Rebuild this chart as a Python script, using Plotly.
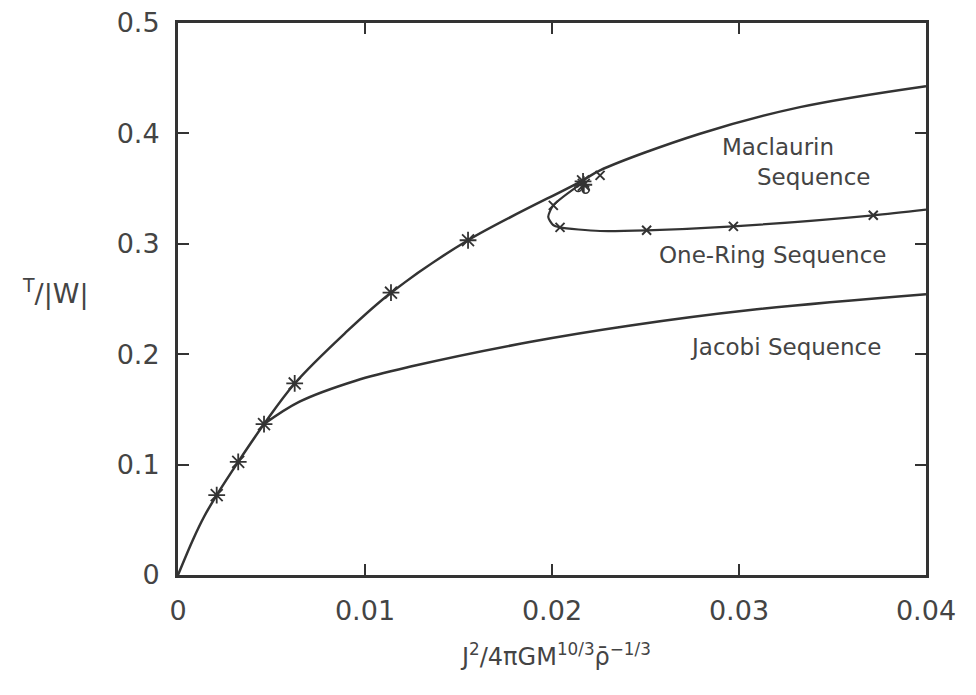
import plotly.graph_objects as go

# Maclaurin sequence (curve)
mac_x = [0, 0.0008, 0.0014, 0.00207, 0.00322, 0.0046, 0.00624, 0.00891, 0.01139,
         0.01551, 0.02155, 0.02257, 0.02791, 0.03326, 0.04]
mac_y = [0, 0.032, 0.053, 0.0724, 0.1025, 0.1367, 0.1735, 0.2187, 0.2557,
         0.3032, 0.3566, 0.3665, 0.3997, 0.4238, 0.4428]
# Maclaurin star markers
macm_x = [0.00207, 0.00322, 0.0046, 0.00624, 0.01139, 0.01551, 0.02166, 0.0217]
macm_y = [0.0724, 0.1025, 0.1367, 0.1735, 0.2557, 0.3032, 0.3566, 0.3535]

# Jacobi sequence
jac_x = [0.0046, 0.0065, 0.0095, 0.0125, 0.0188, 0.0242, 0.0306, 0.0400]
jac_y = [0.1367, 0.157, 0.176, 0.189, 0.211, 0.226, 0.240, 0.2543]

# One-ring sequence
ring_x = [0.02166, 0.02007, 0.0198, 0.02005, 0.02043, 0.02257, 0.02506, 0.0297, 0.03718, 0.04]
ring_y = [0.3557, 0.3348, 0.3243, 0.3172, 0.3149, 0.3116, 0.3122, 0.3158, 0.3258, 0.331]
ringm_x = [0.02007, 0.02043, 0.02506, 0.0297, 0.03718, 0.02257]
ringm_y = [0.3348, 0.3149, 0.3122, 0.3158, 0.3258, 0.362]
# circles in the cluster
circ_x = [0.0218, 0.0214]
circ_y = [0.3490, 0.3505]

xticks = [0, 0.01, 0.02, 0.03, 0.04]
xtick_text = ["0", "0.01", "0.02", "0.03", "0.04"]
yticks = [0, 0.1, 0.2, 0.3, 0.4, 0.5]
ytick_text = ["0", "0.1", "0.2", "0.3", "0.4", "0.5"]

INK = "#333333"
TXT = "#444444"
FONT = "DejaVu Sans"

fig = go.Figure()
fig.add_trace(go.Scatter(x=mac_x, y=mac_y, mode="lines",
                         line=dict(color=INK, width=2.5, shape="spline", smoothing=1.0)))
fig.add_trace(go.Scatter(x=jac_x, y=jac_y, mode="lines",
                         line=dict(color=INK, width=2.5, shape="spline", smoothing=1.0)))
fig.add_trace(go.Scatter(x=ring_x, y=ring_y, mode="lines",
                         line=dict(color=INK, width=2.2, shape="spline", smoothing=0.7)))
fig.add_trace(go.Scatter(x=macm_x, y=macm_y, mode="markers",
                         marker=dict(symbol="asterisk-open", size=14, color=INK,
                                     line=dict(color=INK, width=1.8))))
fig.add_trace(go.Scatter(x=ringm_x, y=ringm_y, mode="markers",
                         marker=dict(symbol="x-thin-open", size=9, color=INK,
                                     line=dict(color=INK, width=2))))
fig.add_trace(go.Scatter(x=circ_x, y=circ_y, mode="markers",
                         marker=dict(symbol="circle-open", size=7, color=INK,
                                     line=dict(color=INK, width=1.5))))

axis_common = dict(showgrid=False, zeroline=False, showline=True, linecolor=INK,
                   linewidth=3, mirror="ticks", ticks="inside", ticklen=11,
                   tickwidth=2, tickcolor=INK, automargin=False,
                   tickfont=dict(family=FONT, size=27, color=TXT))
fig.update_xaxes(range=[0, 0.04], tickvals=xticks, ticktext=xtick_text,
                 ticklabelstandoff=10, **axis_common)
fig.update_yaxes(range=[0, 0.5], tickvals=yticks, ticktext=ytick_text,
                 ticklabelstandoff=10, **axis_common)

annots = [
    dict(text="Maclaurin", x=778, y=147, size=23),
    dict(text="Sequence", x=813, y=177, size=23),
    dict(text="One-Ring Sequence", x=772, y=255, size=23),
    dict(text="Jacobi Sequence", x=785, y=347, size=23),
]
for a in annots:
    fig.add_annotation(x=(a["x"] - 178) / 748, y=(575 - a["y"]) / 552,
                       xref="paper", yref="paper", text=a["text"], showarrow=False,
                       font=dict(family=FONT, size=a["size"], color=TXT),
                       xanchor="center", yanchor="middle")

fig.add_annotation(x=(56 - 178) / 748, y=(575 - 292) / 552, xref="paper", yref="paper",
                   text="<sup>T</sup>/|W|", showarrow=False,
                   font=dict(family=FONT, size=27, color=TXT),
                   xanchor="center", yanchor="middle")
fig.add_annotation(x=(555 - 178) / 748, y=(575 - 655) / 552, xref="paper", yref="paper",
                   text="J<sup>2</sup>/4πGM<sup>10/3</sup>ρ̄<sup>−1/3</sup>", showarrow=False,
                   font=dict(family=FONT, size=24, color=TXT),
                   xanchor="center", yanchor="middle")

fig.update_layout(width=976, height=695, showlegend=False,
                  paper_bgcolor="white", plot_bgcolor="white",
                  margin=dict(l=178, r=50, t=23, b=120, autoexpand=False))

fig.write_html("out.html", config={"displayModeBar": False},
               post_script="document.body.style.margin='0';document.body.style.overflow='hidden';")
